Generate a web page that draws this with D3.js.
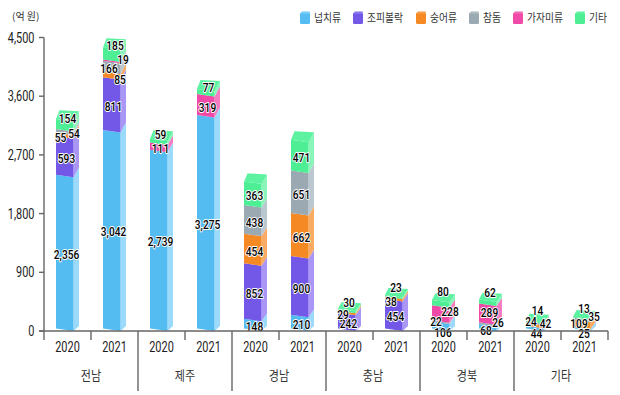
<!DOCTYPE html>
<html><head><meta charset="utf-8">
<script src="https://cdn.jsdelivr.net/npm/d3@7"></script>
<style>
html,body{margin:0;background:#fff}
svg{display:block}
text{font-family:"Roboto",sans-serif;fill:#1c1c1c}
.kr{font-family:"Noto Sans CJK KR",sans-serif;font-weight:400;fill:#333}
</style></head><body><div id="c"></div>
<script>
const regions=["전남","제주","경남","충남","경북","기타"];
const years=["2020","2021"];
const species=["넙치류","조피볼락","숭어류","참돔","가자미류","기타"];
const colors=["#55bcf2","#7358e8","#f58a24","#9aa9b2","#f049a8","#4eee94"];
const sideColors=["#9bdafb","#a996f5","#f9ab63","#bcc8cf","#f57cc3","#8af5b8"];
const topColors=["#6fcaf5","#8873ee","#f79a45","#aab8c0","#f264b4","#5cf2a0"];
const yTicks=[0,900,1800,2700,3600,4500];
const s0=[2356,2739,148,0,106,44];
const s1=[3042,3275,210,0,68,25];
const j0=[593,0,852,242,0,0];
const j1=[811,0,900,454,0,0];
const m0=[55,0,454,29,0,42];
const m1=[85,0,662,38,0,109];
const c0=[54,0,438,0,22,24];
const c1=[166,0,651,0,26,35];
const g0=[0,111,0,0,228,0];
const g1=[19,319,0,0,289,0];
const e0=[154,59,363,30,80,14];
const e1=[185,77,471,23,62,13];
const y0Series=[s0,j0,m0,c0,g0,e0], y1Series=[s1,j1,m1,c1,g1,e1];
// hand-placed label nudges: region|year|species -> [dx,dy]
const nudges={"0|0|2":[-6,0],"0|0|3":[7.5,0],"0|0|5":[1,-8],
"0|1|2":[6.5,2],"0|1|3":[-4.5,0],"0|1|4":[9.5,-3],"0|1|5":[1.5,-11],
"1|0|5":[0,-9],"1|1|5":[1,-7],
"3|0|0":[0,2],"3|0|2":[-5.5,0],"3|0|5":[0.5,-10],
"3|1|0":[1,1],"3|1|2":[-4.5,1],"3|1|5":[0.5,-11],
"4|0|0":[0.5,4.5],"4|0|3":[-6.5,-2.5],"4|0|4":[7.5,-4],"4|0|5":[0.5,-14],
"4|1|0":[-3.5,2],"4|1|3":[8.5,-3],"4|1|4":[0,-3.5],"4|1|5":[0.5,-12],
"5|0|0":[0,3.5],"5|0|2":[9,-3],"5|0|3":[-5.5,-3.5],"5|0|5":[1,-13],
"5|1|0":[0.5,3],"5|1|2":[-4.5,-3],"5|1|3":[10.5,-5],"5|1|5":[0.5,-11.5]};

const W=620,H=395,x0=44,x1=608,yTop=37.5,yBase=331;
const svg=d3.select("#c").append("svg").attr("width",W).attr("height",H);
const y=d3.scaleLinear().domain([0,4500]).range([yBase,yTop]);
const outer=d3.scaleBand().domain(regions).range([x0,x1]);
const inner=d3.scaleBand().domain(years).range([0,outer.bandwidth()]);
const frontW=17.5, dx=5.5, skew=2.5;
const rise=v=>v<=0?5:8+3*(v/4500);
const sx=0.78;
function label(parent,x,yy,t,size,anchor,cls){
  const el=parent.append("text").attr("transform",`translate(${x},${yy}) scale(${sx},1)`)
    .attr("dy","0.36em").attr("text-anchor",anchor).attr("font-size",size).text(t);
  if(cls)el.attr("class",cls);
  return el;
}

regions.forEach((r,ri)=>{years.forEach((yr,yi)=>{
  const series=yi?y1Series:y0Series;
  const cx=outer(r)+inner(yr)+inner.bandwidth()/2;
  const L=cx-11.5,R=L+frontW;
  let acc=0; const g=svg.append("g");
  const labels=[];
  const total=d3.sum(series,s=>s[ri]);
  series.forEach((s,si)=>{
    const v=s[ri]; if(!v)return;
    const yb=y(acc), yt=y(acc+v), rb=rise(acc), rt=rise(acc+v);
    g.append("path").attr("d",`M${R},${yb}L${R+dx},${yb-rb}L${R+dx},${yt-rt}L${R},${yt}Z`).attr("fill",sideColors[si]);
    g.append("path").attr("d",`M${L},${yb-skew}L${R},${yb}L${R},${yt}L${L},${yt-skew}Z`).attr("fill",colors[si]);
    if(acc+v===total){
      g.append("path").attr("d",`M${L},${yt-skew}L${L+3.5},${yt-rt-1}L${R+dx},${yt-rt}L${R},${yt}Z`).attr("fill",topColors[si]);
    }
    const n=nudges[`${ri}|${yi}|${si}`]||[0,0];
    labels.push({t:d3.format(",")(v),x:cx-1+n[0],y:(yb+yt)/2+n[1]});
    acc+=v;
  });
  labels.forEach(l=>{
    label(g,l.x,l.y,l.t,13,"middle").attr("font-weight",500).style("fill","#000").attr("stroke","#fff").attr("stroke-width",2).attr("paint-order","stroke").attr("stroke-linejoin","round");
  });
});});

const ax=svg.append("g").attr("stroke","#666").attr("stroke-width",1.4);
ax.append("line").attr("x1",x0).attr("x2",x0).attr("y1",yTop).attr("y2",340);
ax.append("line").attr("x1",x0-5).attr("x2",x1).attr("y1",yBase).attr("y2",yBase);
yTicks.forEach(t=>{
  ax.append("line").attr("x1",x0-5).attr("x2",x0).attr("y1",y(t)).attr("y2",y(t));
  label(svg,x0-9.5,y(t),d3.format(",")(t),14,"end");
});
regions.forEach((r,i)=>{
  const a=outer(r);
  ax.append("line").attr("x1",a+inner.bandwidth()).attr("x2",a+inner.bandwidth()).attr("y1",yBase).attr("y2",340);
  if(i>0) ax.append("line").attr("x1",a).attr("x2",a).attr("y1",yBase).attr("y2",391);
  svg.append("text").attr("class","kr").attr("transform",`translate(${a+outer.bandwidth()/2},375) scale(.85,1)`).attr("dy","0.36em").attr("text-anchor","middle").attr("font-size",13).text(r);
  years.forEach(yr=>label(svg,a+inner(yr)+inner.bandwidth()/2,347,yr,14,"middle"));
});
ax.append("line").attr("x1",x1).attr("x2",x1).attr("y1",yBase).attr("y2",340);

svg.append("text").attr("class","kr").attr("x",12).attr("y",20).attr("font-size",10).text("(억 원)");

const legX=[300,353,416,469,513,575];
species.forEach((s,i)=>{
  const g=svg.append("g").attr("transform",`translate(${legX[i]},11)`);
  g.append("rect").attr("x",0).attr("y",1.5).attr("width",10).attr("height",11.5).attr("rx",1.5).attr("fill",colors[i]);
  g.append("path").attr("d","M0,3L2,0.5L10,0.5L9,3Z").attr("fill",topColors[i]);
  g.append("text").attr("class","kr").attr("transform",`translate(14,6.5) scale(.85,1)`).attr("dy","0.36em").attr("font-size",11.5).text(s);
});
</script></body></html>
